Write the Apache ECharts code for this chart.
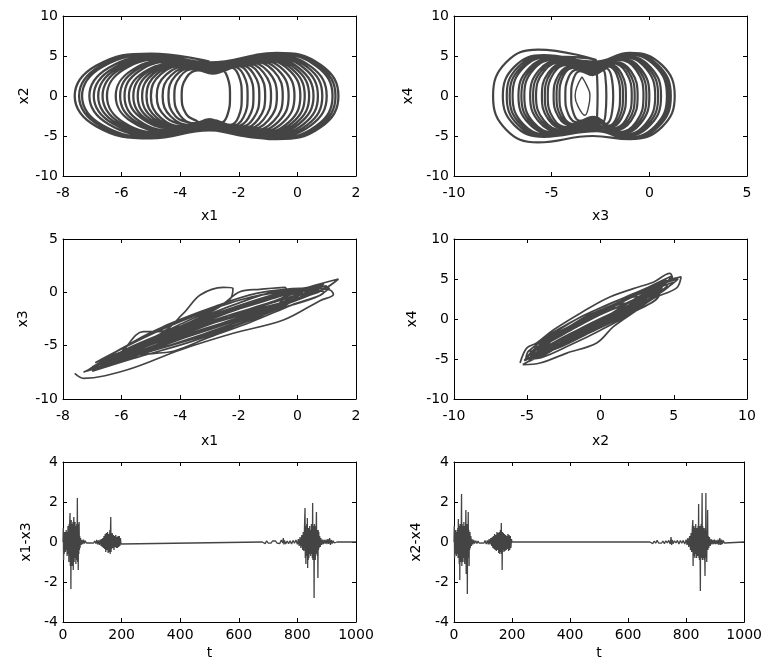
<!DOCTYPE html>
<html><head><meta charset="utf-8">
<script src="https://cdn.jsdelivr.net/npm/echarts/dist/echarts.min.js"></script>
<style>html,body{margin:0;padding:0;background:#fff}#c{width:765px;height:669px}</style>
</head><body><div id="c"></div>
<script>
// ---------- Panel 1: x1 vs x2 (hand-read arcs of the double scroll) ----------
const x1x2Path = [
 [-3.0,4.3],[-5.0,5.3],[-6.86,3.8],[-7.6,0],[-6.86,-3.8],[-5.0,-5.3],
 [-3.0,-4.3],[-0.7,-5.4],[0.8,-3.89],[1.4,0],[0.8,3.89],[-0.7,5.4],
 [-3.1,3.9],[-4.8,4.9],[-6.44,3.53],[-7.1,0],[-6.44,-3.53],[-4.8,-4.9],
 [-3.1,-3.9],[-0.9,-5.1],[0.46,-3.67],[1.0,0],[0.46,3.67],[-0.9,5.1],
 [-2.9,3.6],[-4.5,4.6],[-5.93,3.31],[-6.5,0],[-5.93,-3.31],[-4.5,-4.6],
 [-3.1,-3.6],[-1.3,-4.6],[-0.3,-3.31],[0.1,0],[-0.3,3.31],[-1.3,4.6],
 [-2.9,4.1],[-4.9,5.1],[-6.65,3.67],[-7.35,0],[-6.65,-3.67],[-4.9,-5.1],
 [-2.9,-4.1],[-0.8,-5.25],[0.63,-3.78],[1.2,0],[0.63,3.78],[-0.8,5.25],
 [-3.0,3.4],[-4.2,4.3],[-5.41,3.1],[-5.9,0],[-5.41,-3.1],[-4.2,-4.3],
 [-2.9,-3.3],[-1.7,-4.2],[-0.99,-3.02],[-0.7,0],[-0.99,3.02],[-1.7,4.2],
 [-3.0,3.8],[-4.6,4.75],[-6.17,3.42],[-6.8,0],[-6.17,-3.42],[-4.6,-4.75],
 [-3.0,-3.8],[-1.0,-4.9],[0.21,-3.53],[0.7,0],[0.21,3.53],[-1.0,4.9],
 [-3.1,3.2],[-3.9,3.95],[-4.9,2.84],[-5.3,0],[-4.9,-2.84],[-3.9,-3.95],
 [-3.0,-3.1],[-2.1,-3.8],[-1.67,-2.74],[-1.5,0],[-1.67,2.74],[-2.1,3.8],
 [-3.1,3.5],[-4.3,4.45],[-5.66,3.2],[-6.2,0],[-5.66,-3.2],[-4.3,-4.45],
 [-2.9,-3.7],[-1.2,-4.75],[-0.06,-3.42],[0.4,0],[-0.06,3.42],[-1.2,4.75],
 [-2.9,3.0],[-3.6,3.6],[-4.31,2.6],[-4.6,0],[-4.31,-2.6],[-3.6,-3.6],
 [-3.0,-2.9],[-2.6,-3.3],[-2.39,-2.38],[-2.3,0],[-2.39,2.38],[-2.6,3.3],
 [-2.9,3.3],[-4.0,4.1],[-5.14,2.95],[-5.6,0],[-5.14,-2.95],[-4.0,-4.1],
 [-3.0,-3.4],[-1.5,-4.4],[-0.64,-3.17],[-0.3,0],[-0.64,3.17],[-1.5,4.4],
 [-3.0,2.9],[-3.5,3.4],[-4.0,2.45],[-4.2,0],[-4.0,-2.45],[-3.5,-3.4],
 [-2.9,-3.0],[-2.3,-3.6],[-2.01,-2.6],[-1.9,0],[-2.01,2.6],[-2.3,3.6],
 [-3.0,3.1],[-3.8,3.8],[-4.66,2.74],[-5.0,0],[-4.66,-2.74],[-3.8,-3.8],
 [-3.1,-3.2],[-1.9,-4.0],[-1.33,-2.88],[-1.1,0],[-1.33,2.88],[-1.9,4.0],
 [-2.9,2.8],[-3.4,3.2],[-3.79,2.3],[-3.95,0],[-3.79,-2.3],[-3.4,-3.2],
 [-3.1,-3.9],[-1.1,-4.85],[0.05,-3.5],[0.55,0],[0.05,3.5],[-1.1,4.85],
 [-3.0,4.0],[-4.7,4.8],[-6.3,3.45],[-6.95,0],[-6.3,-3.45],[-4.7,-4.8],
 [-3.0,-3.5],[-1.6,-4.3],[-0.8,-3.1],[-0.5,0],[-0.8,3.1],[-1.6,4.3],
 [-3.1,3.1],[-4.1,4.0],[-5.27,2.9],[-5.75,0],[-5.27,-2.9],[-4.1,-4.05],
 [-2.9,-3.1],[-2.0,-3.9],[-1.5,-2.8],[-1.3,0],[-1.5,2.8],[-2.0,3.9],
 [-3.0,3.4],[-3.7,3.7],[-4.48,2.66],[-4.8,0],[-4.48,-2.66],[-3.7,-3.7],
 [-3.0,-4.2],[-0.75,-5.33],[0.71,-3.84],[1.3,0],[0.71,3.84],[-0.75,5.33],
 [-3.0,4.2],[-4.95,5.2],[-6.73,3.74],[-7.45,0],[-6.73,-3.74],[-4.95,-5.2],
 [-2.9,-3.9],[-0.95,-5.0],[0.34,-3.6],[0.85,0],[0.34,3.6],[-0.95,5.0],
 [-3.0,3.7],[-4.55,4.68],[-6.05,3.37],[-6.65,0],[-6.05,-3.37],[-4.55,-4.68],
 [-3.0,-3.6],[-1.25,-4.68],[-0.18,-3.37],[0.25,0],[-0.18,3.37],[-1.25,4.68],
 [-3.1,3.45],[-4.25,4.38],[-5.54,3.15],[-6.05,0],[-5.54,-3.15],[-4.25,-4.38],
 [-3.0,-3.4],[-1.4,-4.5],[-0.47,-3.24],[-0.1,0],[-0.47,3.24],[-1.4,4.5],
 [-3.0,3.25],[-3.95,4.02],[-5.02,2.9],[-5.45,0],[-5.02,-2.9],[-3.95,-4.02],
 [-2.9,-3.2],[-1.8,-4.1],[-1.16,-2.95],[-0.9,0],[-1.16,2.95],[-1.8,4.1],
 [-3.0,3.15],[-3.85,3.88],[-4.78,2.79],[-5.15,0],[-4.78,-2.79],[-3.85,-3.88],
 [-3.0,-3.0],[-2.2,-3.7],[-1.84,-2.66],[-1.7,0],[-1.84,2.66],[-2.2,3.7],
 [-2.9,2.95],[-3.55,3.5],[-4.16,2.52],[-4.4,0],[-4.16,-2.52],[-3.55,-3.5],
 [-3.0,-4.1]
];

// ---------- Panel 2: x3 vs x4 ----------
const x3x4Path = [
 [-2.7,4.5],[-5.7,5.8],[-7.34,4.18],[-8.0,0],[-7.34,-4.18],[-5.7,-5.8],
 [-2.9,-5.0],[-1.0,-5.4],[0.64,-3.89],[1.3,0],[0.64,3.89],[-1.0,5.4],
 [-2.8,4.3],[-5.4,5.1],[-6.9,3.67],[-7.5,0],[-6.9,-3.67],[-5.4,-5.1],
 [-2.7,-4.4],[-1.2,-5.2],[0.3,-3.74],[0.9,0],[0.3,3.74],[-1.2,5.2],
 [-2.6,4.2],[-5.3,5.0],[-6.73,3.6],[-7.3,0],[-6.73,-3.6],[-5.3,-5.0],
 [-2.8,-4.2],[-1.4,-4.85],[-0.19,-3.49],[0.3,0],[-0.19,3.49],[-1.4,4.85],
 [-2.7,4.1],[-5.1,4.85],[-6.46,3.5],[-7.0,0],[-6.46,-3.5],[-5.1,-4.85],
 [-2.6,-4.0],[-1.1,-5.3],[0.47,-3.82],[1.1,0],[0.47,3.82],[-1.1,5.3],
 [-2.8,3.9],[-4.9,4.7],[-6.19,3.38],[-6.7,0],[-6.19,-3.38],[-4.9,-4.7],
 [-2.7,-3.8],[-1.6,-4.5],[-0.67,-3.24],[-0.3,0],[-0.67,3.24],[-1.6,4.5],
 [-2.6,3.7],[-4.8,4.55],[-5.94,3.28],[-6.4,0],[-5.94,-3.28],[-4.8,-4.55],
 [-2.8,-3.6],[-1.3,-5.0],[0.06,-3.6],[0.6,0],[0.06,3.6],[-1.3,5.0],
 [-2.7,3.5],[-4.6,4.4],[-5.67,3.17],[-6.1,0],[-5.67,-3.17],[-4.6,-4.4],
 [-2.6,-3.4],[-1.8,-4.3],[-0.94,-3.1],[-0.6,0],[-0.94,3.1],[-1.8,4.3],
 [-2.8,3.3],[-4.4,4.25],[-5.4,3.06],[-5.8,0],[-5.4,-3.06],[-4.4,-4.25],
 [-2.7,-3.2],[-1.5,-4.7],[-0.43,-3.38],[0.0,0],[-0.43,3.38],[-1.5,4.7],
 [-2.6,3.1],[-4.3,4.1],[-5.16,2.95],[-5.5,0],[-5.16,-2.95],[-4.3,-4.1],
 [-2.8,-3.0],[-1.9,-4.1],[-1.19,-2.95],[-0.9,0],[-1.19,2.95],[-1.9,4.1],
 [-2.7,3.0],[-4.2,3.9],[-4.91,2.81],[-5.2,0],[-4.91,-2.81],[-4.2,-3.9],
 [-2.6,-2.9],[-2.0,-3.9],[-1.43,-2.81],[-1.2,0],[-1.43,2.81],[-2.0,3.9],
 [-2.8,2.9],[-4.0,3.7],[-4.64,2.66],[-4.9,0],[-4.64,-2.66],[-4.0,-3.7],
 [-2.7,-2.8],[-2.1,-3.7],[-1.67,-2.66],[-1.5,0],[-1.67,2.66],[-2.1,3.7],
 [-2.8,2.8],[-3.9,3.5],[-4.4,2.52],[-4.6,0],[-4.4,-2.52],[-3.9,-3.5],
 [-2.7,-2.7],[-2.25,-3.5],[-1.95,-2.52],[-1.85,0],[-1.95,2.52],[-2.25,3.5],
 [-2.8,2.7],[-3.7,3.3],[-4.13,2.38],[-4.3,0],[-4.13,-2.38],[-3.7,-3.3],
 [-2.8,-2.6],[-2.4,-3.3],[-2.25,-2.38],[-2.2,0],[-2.25,2.38],[-2.4,3.3],
 [-2.9,2.6],[-3.55,3.1],[-3.87,2.23],[-4.0,0],[-3.87,-2.23],[-3.55,-3.1],
 [-2.9,-2.6],[-2.7,-3.1],[-2.67,-2.23],[-2.65,0],[-2.67,2.23],[-2.7,3.1],
 [-2.7,4.2],[-5.2,4.92],[-6.59,3.54],[-7.15,0],[-6.59,-3.54],[-5.2,-4.92],
 [-2.7,-4.3],[-1.15,-5.25],[0.39,-3.78],[1.0,0],[0.39,3.78],[-1.15,5.25],
 [-2.7,3.8],[-4.85,4.62],[-6.06,3.33],[-6.55,0],[-6.06,-3.33],[-4.85,-4.62],
 [-2.7,-3.9],[-1.35,-4.92],[-0.06,-3.54],[0.45,0],[-0.06,3.54],[-1.35,4.92],
 [-2.7,3.4],[-4.5,4.32],[-5.54,3.11],[-5.95,0],[-5.54,-3.11],[-4.5,-4.32],
 [-2.7,-3.3],[-1.55,-4.6],[-0.55,-3.31],[-0.15,0],[-0.55,3.31],[-1.55,4.6],
 [-2.7,3.1],[-4.25,4.0],[-5.04,2.88],[-5.35,0],[-5.04,-2.88],[-4.25,-4.0],
 [-2.7,-3.0],[-1.85,-4.2],[-1.06,-3.02],[-0.75,0],[-1.06,3.02],[-1.85,4.2],
 [-2.7,2.9],[-3.95,3.6],[-4.52,2.59],[-4.75,0],[-4.52,-2.59],[-3.95,-3.6],
 [-2.7,-2.8],[-2.05,-3.8],[-1.55,-2.74],[-1.35,0],[-1.55,2.74],[-2.05,3.8],
 [-2.8,4.0]
];
const x3x4Lens = [
 [-3.45,2.4],[-3.7,1.2],[-3.8,0],[-3.65,-1.3],[-3.3,-2.4],[-3.1,-1.2],[-3.04,0.1],[-3.2,1.3],[-3.45,2.4]
];

// ---------- Panel 3: x1 vs x3 ----------
const x1x3Path = [
 [-7.6,-7.6],[-7.3,-8.06],[-5.83,-7.28],[-4.0,-5.4],[-2.19,-3.84],[-0.48,-2.6],[0.77,-0.78],[1.23,-0.2],[1.11,0.22],[0.43,0.47],[-0.2,-0.2],[-1.5,-1.6],[-3.0,-3.0],[-4.5,-4.6],[-6.0,-6.3],[-7.2,-7.4],
 [-6.6,-6.4],[-5.0,-4.6],[-3.2,-2.6],[-1.2,-0.9],[0.4,0.5],[1.4,1.25],
 [0.9,0.3],[-0.8,-1.5],[-2.8,-3.2],[-4.8,-5.0],[-6.6,-6.9],
 [-6.0,-5.6],[-5.26,-3.69],[-4.69,-3.69],[-3.9,-2.0],[-3.32,-0.25],[-2.53,0.47],[-2.2,0.4],[-2.3,-0.65],[-3.0,-1.9],[-4.0,-3.2],[-5.2,-4.7],[-6.4,-6.2],
 [-5.5,-5.0],[-4.0,-3.0],[-2.6,-1.2],[-1.96,0.06],[-1.28,0.28],[-0.42,0.47],[-0.37,-0.1],[-1.3,-1.3],[-2.8,-2.8],[-4.3,-4.3],[-5.6,-5.9],
 [-4.8,-5.7],[-4.2,-5.5],[-3.0,-4.2],[-1.6,-2.8],[-0.2,-1.2],[0.9,0.0],
 [0.5,0.2],[-1.0,-1.0],[-2.6,-2.4],[-4.4,-3.9],[-6.2,-5.8],[-7.0,-7.0],
 [-6.3,-6.1],[-4.6,-4.3],[-2.9,-2.4],[-1.0,-0.7],[0.6,0.6],
 [0.3,0.0],[-1.6,-2.1],[-3.5,-3.9],[-5.2,-5.5],[-6.8,-7.2],
 [-6.1,-6.0],[-4.4,-3.9],[-2.5,-2.0],[-0.5,-0.3],[0.9,0.8],
 [0.5,-0.1],[-1.4,-1.9],[-3.4,-3.6],[-5.4,-5.6],[-6.5,-6.6],
 [-5.7,-5.3],[-4.2,-3.4],[-2.2,-1.6],[-0.3,0.0],[1.0,0.6],
 [0.7,0.0],[-1.0,-1.4],[-3.0,-3.3],[-5.0,-5.1],[-6.3,-6.4],
 [-5.4,-4.8],[-3.8,-3.1],[-1.8,-1.2],[0.0,0.2],
 [-0.2,-0.5],[-2.0,-2.5],[-3.8,-4.1],[-5.6,-6.0],[-6.9,-7.3],
 [-6.0,-5.7],[-4.7,-4.6],[-3.2,-2.8],[-1.5,-1.1],[0.2,0.3],
 [-0.4,-0.8],[-2.3,-2.7],[-4.1,-4.5],[-5.9,-6.3],
 [-5.2,-5.0],[-3.6,-3.0],[-2.0,-1.5],[-0.6,-0.2],[0.7,0.4],
 [0.2,-0.5],[-1.8,-2.4],[-3.9,-4.3],[-5.5,-5.8],[-6.6,-6.5],
 [-6.8,-6.7],[-5.0,-4.5],[-3.0,-2.3],[-1.0,-0.4],[0.8,0.7],
 [0.4,-0.2],[-1.4,-1.6],[-3.4,-3.2],[-5.4,-5.2],[-7.1,-7.2],
 [-6.5,-6.3],[-4.8,-4.1],[-2.8,-2.0],[-0.8,-0.2],[0.5,0.5],
 [0.0,-0.6],[-2.0,-2.2],[-4.0,-3.8],[-6.0,-5.8],[-7.3,-7.5],
 [-6.6,-6.6],[-4.6,-4.5],[-2.4,-2.4],[-0.4,-0.6],[1.1,0.4],
 [0.6,-0.5],[-1.2,-2.0],[-3.2,-3.9],[-5.1,-5.6],[-6.7,-6.9],
 [-5.9,-5.4],[-4.0,-3.2],[-2.2,-1.2],[-0.6,0.2],[0.4,0.4],
 [-0.1,-0.3],[-2.4,-2.2],[-4.6,-4.2],[-6.4,-6.0],
 [-6.9,-6.6],[-5.2,-4.2],[-3.6,-2.3],[-1.8,-0.6],[0.0,0.3],[0.8,0.6],
 [0.2,-0.3],[-1.6,-2.6],[-3.6,-4.6],[-5.6,-6.2],[-7.0,-7.4],
 [-6.4,-5.9],[-4.8,-3.6],[-3.0,-1.6],[-1.2,-0.2],[0.3,0.4],
 [-0.4,-1.2],[-2.4,-3.3],[-4.4,-5.0],[-6.2,-6.6],
 [-5.8,-5.0],[-4.4,-3.0],[-2.8,-1.3],[-1.4,-0.1],[-0.2,0.3],
 [-1.0,-1.9],[-3.0,-3.9],[-5.0,-5.5],[-6.8,-7.0]
];

// ---------- Panel 4: x2 vs x4 ----------
const x2x4Path = [
 [-5.49,-5.5],[-5.04,-3.64],[-4.36,-3.0],[-3.22,-1.37],[-1.4,0.7],[0.42,2.57],[2.24,3.8],[3.6,4.6],[4.74,5.7],[4.9,5.2],[3.8,4.0],[1.8,1.9],[-0.6,-0.9],[-2.8,-3.4],[-4.6,-5.0],[-5.3,-5.7],
 [-4.13,-5.5],[-2.3,-4.26],[-0.26,-3.0],[0.88,-0.96],[2.4,1.0],[3.6,2.57],[5.2,3.9],[5.5,5.26],[4.6,4.8],[2.8,3.0],[0.6,0.5],[-1.6,-1.8],[-3.6,-3.8],[-5.0,-4.9],
 [-4.6,-3.9],[-3.0,-2.0],[-1.0,0.3],[1.0,1.9],[3.0,3.6],[4.4,4.6],
 [4.0,3.6],[2.2,1.8],[0.2,-0.4],[-1.8,-2.5],[-3.8,-4.3],[-4.8,-4.6],
 [-4.1,-3.4],[-2.2,-1.4],[-0.3,0.7],[1.6,2.3],[3.2,3.9],[4.9,5.4],
 [4.3,4.2],[2.8,2.2],[0.8,0.2],[-1.2,-1.8],[-3.2,-3.6],[-4.4,-4.2],
 [-3.6,-3.0],[-1.8,-1.0],[0.2,0.9],[2.0,2.6],[3.4,3.7],
 [2.9,2.8],[1.2,0.8],[-0.8,-1.2],[-2.8,-3.0],[-4.0,-4.0],
 [-3.0,-2.2],[-1.2,-0.4],[0.6,1.2],[2.4,2.8],[3.0,2.6],
 [1.6,1.0],[-0.4,-0.8],[-2.4,-2.8],[-4.2,-4.6],[-4.8,-4.0],
 [-3.8,-2.6],[-2.0,-0.8],[0.0,0.8],[1.8,2.0],[2.6,2.0],
 [1.0,0.2],[-1.0,-1.6],[-3.0,-3.4],[-4.4,-4.8],
 [-3.4,-3.2],[-1.6,-1.4],[0.4,0.4],[2.2,1.8],[3.6,3.0],[4.6,4.0],
 [3.8,3.2],[1.8,1.4],[-0.2,-0.4],[-2.2,-2.2],[-4.0,-3.6],
 [-4.8,-4.2],[-2.6,-2.0],[-0.4,0.2],[1.8,2.0],[3.8,3.8],[5.0,4.6],
 [4.2,3.4],[2.2,1.4],[0.0,-0.8],[-2.2,-2.8],[-4.2,-4.4],[-5.2,-5.2],
 [-4.4,-3.6],[-2.4,-1.6],[-0.6,0.2],[1.4,1.6],[3.4,3.2],[4.4,3.8],
 [3.6,2.6],[1.6,0.8],[-0.4,-1.0],[-2.6,-2.6],[-4.6,-4.4],
 [-4.0,-3.0],[-2.0,-1.0],[0.0,0.6],[2.0,2.2],[4.0,4.2],[5.3,5.0],
 [4.6,4.0],[2.6,2.4],[0.4,0.0],[-1.6,-2.2],[-3.4,-4.0],[-4.9,-5.3],
 [-4.2,-4.0],[-2.2,-2.0],[-0.2,-0.2],[1.8,1.6],[3.6,3.4],
 [4.5,4.9],[2.8,3.6],[0.8,2.0],[-1.2,0.4],[-3.2,-1.8],[-4.9,-4.0],
 [-5.1,-5.0],[-4.0,-4.8],[-2.0,-3.2],[0.0,-1.4],[2.0,0.6],[4.0,3.0],
 [3.2,3.6],[1.4,2.5],[-0.6,0.9],[-2.6,-1.0],[-4.3,-3.1],
 [-4.6,-4.9],[-3.2,-3.8],[-1.2,-2.0],[0.8,-0.2],[2.8,2.0],
 [3.8,4.0],[2.2,2.8],[0.2,1.2],[-1.8,-0.6],[-3.8,-2.8],
 [-4.4,-4.6],[-2.6,-3.4],[-0.6,-1.6],[1.4,0.2],[3.4,2.4],[4.6,4.2]
];

// ---------- Panels 5 & 6: synchronisation errors vs t ----------
const errX1X3 = [
 [0,0],[1,0.7],[2,-0.9],[3,0.5],[4,-0.6],[5,0.4],[6,-0.3],[7,0.5],[8,-0.5],[9,0.3],[10,-0.4],[11,0.6],[12,-0.3],[13,0.4],[14,-0.7],[15,0.5],[16,-0.4],[17,0.8],[18,-0.6],[19,0.6],[20,-1.0],[21,0.9],[22,-0.7],[23,1.0],[24,1.45],[25,-1.2],[26,0.8],[27,-2.35],[28,1.1],[29,-1.0],[30,0.7],[31,-1.2],[32,0.9],[33,-0.6],[34,1.0],[35,-1.4],[36,0.8],[37,1.25],[38,-1.0],[39,0.7],[40,-0.8],[41,1.0],[42,-0.6],[43,0.8],[44,-1.1],[45,0.6],[46,-0.9],[47,0.9],[48,-0.5],[49,2.2],[50,-1.0],[51,0.7],[52,-1.4],[53,0.9],[54,-0.6],[55,1.0],[56,-0.4],[57,0.3],[58,-0.3],[60,0.2],[62,-0.15],[64,0.1],[67,-0.1],[70,0.12],[73,-0.08],[76,0.06],[80,-0.05],[84,0.05],[88,-0.04],[92,0.03],[96,-0.05],[100,0.04],[104,-0.06],[108,0.05],[112,-0.08],[115,0.1],[118,-0.12],[121,0.08],[124,-0.15],[127,0.12],[130,-0.2],[132,0.15],[134,-0.25],[136,0.2],[138,-0.3],[140,0.3],[142,-0.35],[144,0.4],[146,-0.5],[148,0.45],[150,-0.4],[152,0.5],[154,-0.55],[156,0.4],[158,-0.5],[160,0.6],[161,-0.6],[162,0.5],[163,1.25],[164,-0.5],[165,0.4],[166,-0.35],[168,0.45],[170,-0.3],[172,0.35],[174,-0.4],[176,0.3],[178,-0.25],[180,0.35],[182,-0.3],[184,0.25],[186,-0.3],[188,0.3],[190,-0.25],[192,0.3],[194,-0.2],[196,0.2],[198,-0.1],[200,0],
 [680,0],[685,0.05],[690,-0.08],[695,0.06],[700,-0.05],[705,0.04],[710,-0.06],[715,0.05],[720,-0.04],[725,0.06],[730,-0.05],[735,0.04],[740,-0.08],[745,0.1],[750,-0.05],[752,0.2],[754,-0.12],[756,0.08],[760,-0.1],[765,0.05],[770,-0.08],[775,0.06],[780,-0.1],[785,0.08],[790,-0.06],[795,0.1],[800,-0.12],[803,0.15],[806,-0.2],[809,0.25],[812,-0.3],[815,0.35],[818,-0.4],[820,0.5],[822,-0.45],[824,0.6],[826,1.7],[827,-0.8],[828,0.7],[829,-1.1],[830,0.8],[831,-0.6],[832,0.9],[833,-0.7],[834,1.2],[835,-1.3],[836,0.7],[837,-0.9],[838,0.6],[839,-0.8],[840,0.7],[841,-0.6],[842,0.8],[843,-0.5],[844,0.6],[845,-0.7],[846,0.5],[847,-0.6],[848,0.9],[849,-0.5],[850,0.6],[851,-0.8],[852,1.95],[853,-0.9],[854,0.8],[855,-0.6],[856,0.7],[857,-2.8],[858,0.9],[859,-0.7],[860,0.8],[861,-0.9],[862,0.6],[863,-0.5],[864,0.7],[865,1.5],[866,-0.6],[867,0.5],[868,-0.7],[869,0.6],[870,-1.8],[871,0.6],[872,-0.4],[873,0.5],[874,-0.3],[876,0.3],[878,-0.25],[880,0.2],[883,-0.15],[886,0.12],[889,-0.1],[892,0.1],[895,-0.08],[898,0.12],[901,-0.1],[904,0.15],[907,-0.1],[910,0.2],[913,-0.15],[916,0.1],[919,-0.08],[922,0.06],[926,-0.05],[930,0.03],[935,0],[1000,0]
];
const errX2X4 = [
 [0,0],[1,0.8],[2,-0.8],[3,0.5],[4,-0.6],[5,0.6],[6,-0.4],[7,0.5],[8,-0.7],[9,0.4],[10,-0.5],[11,0.6],[12,-0.6],[13,0.7],[14,-0.8],[15,1.15],[16,-0.6],[17,0.8],[18,-1.1],[19,0.7],[20,-1.9],[21,0.9],[22,-0.8],[23,0.7],[24,-1.0],[25,0.8],[26,2.4],[27,-1.2],[28,0.9],[29,-0.7],[30,0.8],[31,-1.0],[32,0.6],[33,-0.8],[34,1.0],[35,-0.7],[36,0.6],[37,-1.1],[38,0.8],[39,-0.9],[40,0.7],[41,1.6],[42,-1.6],[43,0.8],[44,-0.7],[45,0.9],[46,-2.6],[47,0.8],[48,-0.6],[49,1.5],[50,-0.8],[51,0.6],[52,-1.2],[53,0.5],[54,-0.4],[55,0.5],[56,-0.3],[58,0.3],[60,-0.2],[62,0.15],[65,-0.12],[68,0.1],[71,-0.08],[75,0.06],[79,-0.08],[83,0.05],[87,-0.06],[91,0.04],[95,-0.05],[99,0.05],[103,-0.06],[107,0.08],[111,-0.1],[115,0.08],[118,-0.12],[121,0.15],[124,-0.12],[127,0.2],[130,-0.2],[132,0.25],[134,-0.3],[136,0.3],[138,-0.35],[140,0.4],[142,-0.4],[144,0.35],[146,-0.45],[148,0.5],[150,-0.4],[152,0.45],[154,-0.55],[156,0.5],[158,-0.6],[160,0.6],[162,-0.5],[163,0.95],[164,-0.6],[165,0.5],[166,-1.4],[167,0.5],[168,-0.4],[170,0.45],[172,-0.5],[174,0.4],[176,-0.45],[178,0.35],[180,-0.4],[182,0.3],[184,-0.35],[186,0.4],[188,-0.45],[190,0.35],[192,-0.4],[194,0.3],[196,-0.3],[198,0.15],[200,0],
 [394,0],[396,0.06],[398,-0.06],[400,0],
 [675,0],[680,0.06],[685,-0.08],[690,0.05],[695,-0.06],[700,0.08],[705,-0.05],[710,0.04],[715,-0.06],[720,0.05],[725,-0.08],[730,0.06],[735,-0.05],[740,0.08],[745,-0.1],[748,0.25],[750,-0.15],[752,0.1],[755,-0.08],[760,0.06],[765,-0.05],[770,0.08],[775,-0.1],[780,0.07],[785,-0.06],[790,0.08],[795,-0.1],[800,0.12],[803,-0.15],[806,0.2],[809,-0.25],[812,0.3],[815,-0.4],[817,0.45],[819,-0.5],[821,0.6],[823,1.1],[824,-1.2],[825,0.7],[826,-0.6],[827,0.8],[828,-0.7],[829,0.6],[830,-0.8],[831,0.7],[832,-0.6],[833,0.9],[834,-0.5],[835,0.6],[836,-0.8],[837,0.7],[838,-0.6],[839,0.5],[840,-0.7],[841,0.8],[842,-0.6],[843,1.9],[844,-0.8],[845,0.7],[846,-0.9],[847,0.8],[848,-0.6],[849,-2.45],[850,0.8],[851,-0.7],[852,0.9],[853,-0.8],[854,0.7],[855,2.45],[856,-0.9],[857,0.8],[858,-0.7],[859,0.6],[860,-0.8],[861,0.7],[862,-0.9],[863,0.6],[864,-0.5],[865,-1.7],[866,0.7],[867,-0.6],[868,2.45],[869,-0.8],[870,0.6],[871,-1.0],[872,0.5],[873,-0.4],[874,1.6],[875,-0.4],[876,0.3],[878,-0.3],[880,0.25],[883,-0.2],[886,0.15],[889,-0.12],[892,0.1],[895,-0.1],[898,0.12],[901,-0.1],[904,0.08],[907,-0.1],[910,0.12],[913,-0.15],[916,0.2],[919,-0.15],[922,0.12],[925,-0.1],[928,0.08],[932,-0.05],[936,0],[1000,0]
];

// ---------- Axis ranges [min, max, interval] and titles ----------
const xRanges = [[-8,2,2],[-10,5,5],[-8,2,2],[-10,10,5],[0,1000,200],[0,1000,200]];
const yRanges = [[-10,10,5],[-10,10,5],[-10,5,5],[-10,10,5],[-4,4,2],[-4,4,2]];
const xNames = ['x1','x3','x1','x2','t','t'];
const yNames = ['x2','x4','x3','x4','x1-x3','x2-x4'];

// ---------- Layout ----------
const FONT = 'DejaVu Sans';
const LINE = '#444444';
const gridLefts = [63,454,63,454,63,454];
const gridTops = [16,16,239,239,462,462];
const yNameGaps = [23,39,33,35,30,31];
const xNameGaps = [33,33,35,35,24,24];
const xLabelMargins = [10,10,10,10,6,6];

const grids=[], xAxes=[], yAxes=[], series=[];
const lbl = {color:'#000', fontSize:14, fontFamily:FONT};
for (let i=0;i<6;i++){
  grids.push({left:gridLefts[i], top:gridTops[i], width:293, height:160});
  const xr=xRanges[i], yr=yRanges[i];
  const common = {type:'value', gridIndex:i, splitLine:{show:false},
    axisLine:{show:true,onZero:false,lineStyle:{color:'#000',width:1}},
    axisTick:{show:true,inside:true,length:4,lineStyle:{color:'#000',width:1}}};
  xAxes.push(Object.assign({}, common, {min:xr[0],max:xr[1],interval:xr[2],position:'bottom',
    axisLabel:Object.assign({margin:xLabelMargins[i], formatter:v=>String(v)}, lbl),
    name:xNames[i], nameLocation:'middle', nameGap:xNameGaps[i], nameTextStyle:lbl}));
  xAxes.push(Object.assign({}, common, {min:xr[0],max:xr[1],interval:xr[2],position:'top',axisLabel:{show:false}}));
  yAxes.push(Object.assign({}, common, {min:yr[0],max:yr[1],interval:yr[2],position:'left',
    axisLabel:Object.assign({margin:5, formatter:v=>String(v)}, lbl),
    name:yNames[i], nameLocation:'middle', nameGap:yNameGaps[i], nameTextStyle:lbl}));
  yAxes.push(Object.assign({}, common, {min:yr[0],max:yr[1],interval:yr[2],position:'right',axisLabel:{show:false}}));
}
function addLine(i, data, smooth, width){
  series.push({type:'line', xAxisIndex:2*i, yAxisIndex:2*i, data:data, showSymbol:false, symbol:'none',
    smooth:smooth, lineStyle:{color:LINE, width:width}, silent:true, animation:false, clip:true});
}
addLine(0, x1x2Path, 0.45, 2.3);
addLine(1, x3x4Path, 0.45, 2.2);
addLine(1, x3x4Lens, 0.45, 1.4);
addLine(2, x1x3Path, 0.35, 1.7);
addLine(3, x2x4Path, 0.35, 1.7);
addLine(4, errX1X3, false, 1.3);
addLine(5, errX2X4, false, 1.3);

const chart = echarts.init(document.getElementById('c'), null, {renderer:'canvas'});
chart.setOption({animation:false, backgroundColor:'#fff', grid:grids, xAxis:xAxes, yAxis:yAxes, series:series});
</script></body></html>
